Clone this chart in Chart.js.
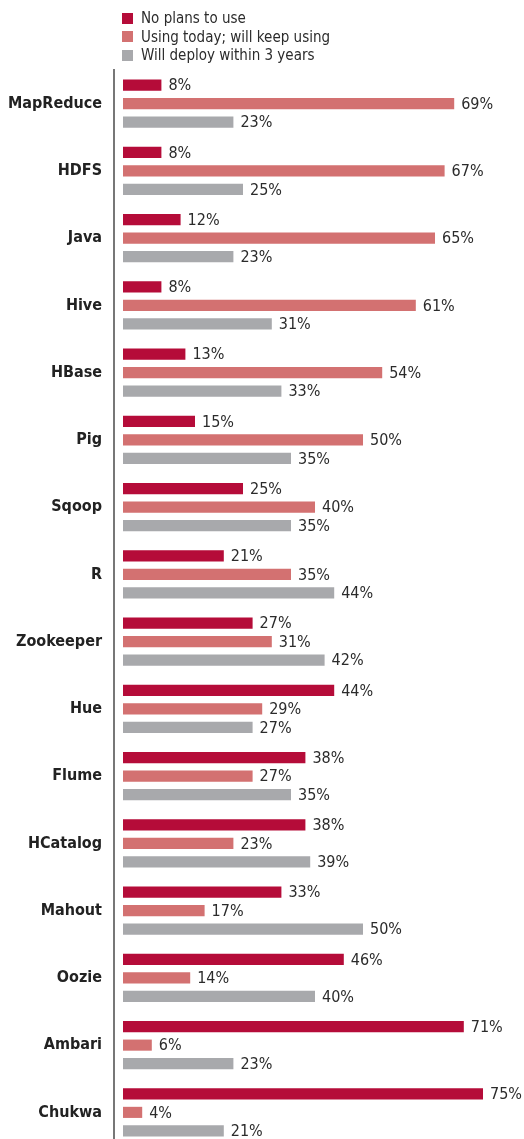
<!DOCTYPE html>
<html>
<head>
<meta charset="utf-8">
<script src="https://cdn.jsdelivr.net/npm/chart.js@4"></script>
<style>
  html, body { margin: 0; padding: 0; background: #fff; overflow: hidden; }
  #wrap { position: relative; width: 524px; height: 1150px; }
  #legend { position: absolute; left: 122px; top: 9px; font-family: "Liberation Sans Narrow", "DejaVu Sans Condensed", "Roboto Condensed", sans-serif; font-size: 15px; color: #2b2b2b; }
  #legend div { height: 18.5px; line-height: 18.5px; display: flex; align-items: center; }
  #legend span.box { display: inline-block; width: 11px; height: 11px; margin-right: 8px; }
</style>
</head>
<body>
<div id="wrap">
  <canvas id="chart" width="524" height="1150"></canvas>
  <div id="legend"></div>
</div>
<script>
const tools = ['MapReduce', 'HDFS', 'Java', 'Hive', 'HBase', 'Pig', 'Sqoop', 'R',
  'Zookeeper', 'Hue', 'Flume', 'HCatalog', 'Mahout', 'Oozie', 'Ambari', 'Chukwa'];

const noPlans = [8, 8, 12, 8, 13, 15, 25, 21, 27, 44, 38, 38, 33, 46, 71, 75];
const usingToday = [69, 67, 65, 61, 54, 50, 40, 35, 31, 29, 27, 23, 17, 14, 6, 4];
const deploySoon = [23, 25, 23, 31, 33, 35, 35, 44, 42, 27, 35, 39, 50, 40, 23, 21];

const seriesNames = ['No plans to use', 'Using today; will keep using', 'Will deploy within 3 years'];
const colors = ['#b50c39', '#d37171', '#a8a9ac'];

const narrow = '"Liberation Sans Narrow", "DejaVu Sans Condensed", "Roboto Condensed", sans-serif';

// legend as plain html, stacked like the original
const legendEl = document.getElementById('legend');
seriesNames.forEach((name, i) => {
  const row = document.createElement('div');
  const box = document.createElement('span');
  box.className = 'box';
  box.style.background = colors[i];
  row.appendChild(box);
  row.appendChild(document.createTextNode(name));
  legendEl.appendChild(row);
});

// percent labels at the end of each bar
const valueLabels = {
  id: 'valueLabels',
  afterDatasetsDraw(chart) {
    const ctx = chart.ctx;
    ctx.save();
    ctx.font = '16px ' + narrow;
    ctx.fillStyle = '#2b2b2b';
    ctx.textAlign = 'left';
    ctx.textBaseline = 'middle';
    chart.data.datasets.forEach((ds, di) => {
      chart.getDatasetMeta(di).data.forEach((bar, i) => {
        ctx.fillText(ds.data[i] + '%', bar.x + 7, bar.y + 1);
      });
    });
    ctx.restore();
  }
};

const chart = new Chart(document.getElementById('chart'), {
  type: 'bar',
  data: {
    labels: tools,
    datasets: [
      { label: seriesNames[0], data: noPlans, backgroundColor: colors[0] },
      { label: seriesNames[1], data: usingToday, backgroundColor: colors[1] },
      { label: seriesNames[2], data: deploySoon, backgroundColor: colors[2] }
    ]
  },
  options: {
    indexAxis: 'y',
    responsive: false,
    animation: false,
    devicePixelRatio: 1,
    categoryPercentage: 0.826,
    barPercentage: 0.6,
    layout: { padding: { top: 70, right: 0, bottom: 4, left: 0 } },
    plugins: {
      legend: { display: false },
      tooltip: { enabled: false }
    },
    scales: {
      x: {
        display: false,
        min: -1.875,
        max: 83.54
      },
      y: {
        afterFit(scale) {
          scale.width = 114;
          scale.paddingTop = 0;
          scale.paddingBottom = 0;
        },
        grid: { drawOnChartArea: false, drawTicks: false, color: 'rgba(0,0,0,0)' },
        border: { display: true, color: '#777', width: 2 },
        ticks: {
          padding: 12,
          color: '#222',
          font: { family: narrow, size: 16, weight: 'bold' }
        }
      }
    }
  },
  plugins: [valueLabels]
});
</script>
</body>
</html>
